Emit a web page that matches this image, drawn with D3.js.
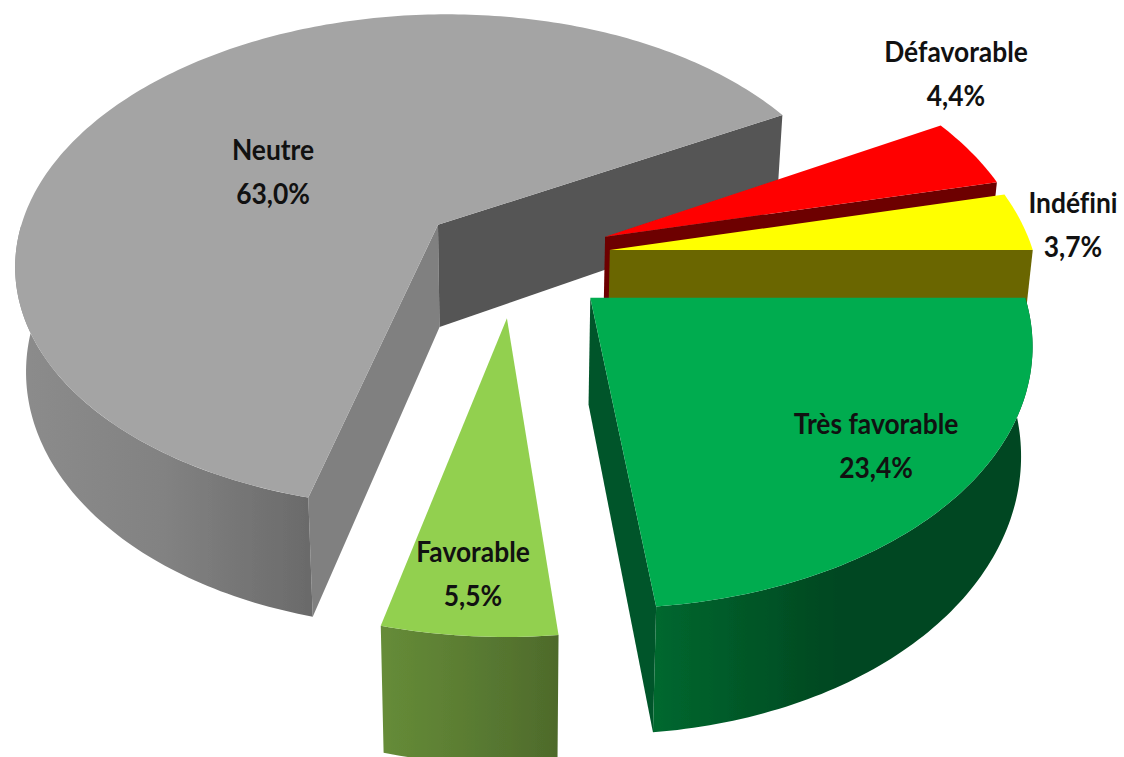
<!DOCTYPE html>
<html>
<head>
<meta charset="utf-8">
<script src="https://cdnjs.cloudflare.com/ajax/libs/d3/7.8.5/d3.min.js"></script>
<style>
  html, body { margin: 0; padding: 0; background: #fff; }
  text { font-family: Lato, "Liberation Sans", sans-serif; font-weight: bold; fill: #111; font-variant-ligatures: none; }
</style>
</head>
<body>
<div id="grafica"></div>
<script>
// clockwise, starting from 3 o'clock
const categories = ["Très favorable", "Favorable", "Neutre", "Défavorable", "Indéfini"];
const values = [23.4, 5.5, 63.0, 4.4, 3.7];
const valueLabels = ["23,4%", "5,5%", "63,0%", "4,4%", "3,7%"];

const topColors = ["#00ac50", "#92d050", "#a4a4a4", "#ff0000", "#ffff00"];
const startWall = ["#00592a", "#00592a", "#808080", "#6d0000", "#6b6600"];
const endWall = ["#00552a", "#4e6a2b", "#545454", "#6d0000", "#6b6600"];
const outerWall = [
  ["#00682f", "#004620", "#004620"],
  ["#668c38", "#5a7c32", "#4e6a2b"],
  ["#8c8c8c", "#828282", "#6a6a6a"],
  ["#6d0000", "#6d0000", "#6d0000"],
  ["#6b6600", "#6b6600", "#6b6600"]
];

var width = 1124, height = 757;
var radius = 428, depth = 105, camera = 2850, tilt = 0.595;
var vx = 510, vy = 270;
var bottomShrink = 0.022; // the base of the pie sits further from the camera

// how far each slice is pulled out of the pie, on the ground plane
var explodeX = [79, -3, -74, 97, 101];
var explodeY = [46, 79, -78, -57, -34];
var labelX = [876, 473, 273, 956, 1073];
var labelY = [424, 552, 150, 52, 203];
var labelSqueeze = 0.91; // the labels in the chart are tall and narrow
var drawOrder = [2, 3, 4, 0, 1];

var svg = d3.select("#grafica").append("svg")
  .attr("width", width)
  .attr("height", height);

var defs = svg.append("defs");

defs.append("filter").attr("id", "soft")
  .append("feGaussianBlur").attr("stdDeviation", 0.6);

function project(x, y, z) {
  var s = camera / (camera - y);
  return [vx + x * s * (1 + bottomShrink * z / depth), vy + (y * tilt - z) * s];
}

var line = d3.line();

var pie = d3.pie().sort(null).startAngle(Math.PI / 2).endAngle(Math.PI * 2.5);
var slices = pie(values);

function rim(i, a0, a1, z) {
  var n = Math.max(2, Math.ceil((a1 - a0) * 60));
  return d3.range(n + 1).map(function(k) {
    var a = a0 + (a1 - a0) * k / n;
    return project(explodeX[i] + radius * Math.cos(a), explodeY[i] + radius * Math.sin(a), z);
  });
}

var pieGroup = svg.append("g").attr("filter", "url(#soft)");

drawOrder.forEach(function(i) {
  var a0 = slices[i].startAngle - Math.PI / 2;
  var a1 = slices[i].endAngle - Math.PI / 2;
  var g = pieGroup.append("g").attr("class", "slice");
  var apexTop = project(explodeX[i], explodeY[i], 0);
  var apexBottom = project(explodeX[i], explodeY[i], -depth);

  // the two cut faces, only when they look toward the viewer
  if (Math.cos(a0) < 0) {
    var t = rim(i, a0, a0 + 0.001, 0)[0], b = rim(i, a0, a0 + 0.001, -depth)[0];
    g.append("path").attr("d", line([apexTop, t, b, apexBottom]) + "Z").attr("fill", startWall[i]);
  }
  if (Math.cos(a1) > 0) {
    var t2 = rim(i, a1 - 0.001, a1, 0).pop(), b2 = rim(i, a1 - 0.001, a1, -depth).pop();
    g.append("path").attr("d", line([apexTop, t2, b2, apexBottom]) + "Z").attr("fill", endWall[i]);
  }

  // outer wall, front half of the circle only
  var from = a0, to = Math.min(a1, Math.PI);
  if (from < Math.PI && to > 0 && from < to) {
    var upper = rim(i, from, to, 0);
    var lower = rim(i, from, to, -depth);
    var xs = d3.extent(upper.concat(lower), function(d) { return d[0]; });
    var grad = defs.append("linearGradient")
      .attr("id", "wall" + i)
      .attr("gradientUnits", "userSpaceOnUse")
      .attr("x1", xs[0]).attr("x2", xs[1]).attr("y1", 0).attr("y2", 0);
    // gradient runs left to right
    outerWall[i].forEach(function(c, k) {
      grad.append("stop").attr("offset", k / 2).attr("stop-color", c);
    });
    g.append("path")
      .attr("d", line(upper.concat(lower.reverse())) + "Z")
      .attr("fill", "url(#wall" + i + ")");
  }

  g.append("path")
    .attr("d", line([apexTop].concat(rim(i, a0, a1, 0))) + "Z")
    .attr("fill", topColors[i]);
});

var labels = svg.selectAll("g.label")
  .data(categories)
  .enter()
    .append("g")
    .attr("class", "label")
    .attr("text-anchor", "middle")
    .attr("font-size", 29);

labels.append("text")
  .attr("transform", function(d, i) {
    return "translate(" + labelX[i] + "," + labelY[i] + ") scale(" + labelSqueeze + ",1)";
  })
  .attr("dy", "0.35em")
  .text(function(d) { return d; });

labels.append("text")
  .attr("transform", function(d, i) {
    return "translate(" + labelX[i] + "," + (labelY[i] + 44) + ") scale(" + labelSqueeze + ",1)";
  })
  .attr("dy", "0.35em")
  .text(function(d, i) { return valueLabels[i]; });
</script>
</body>
</html>
